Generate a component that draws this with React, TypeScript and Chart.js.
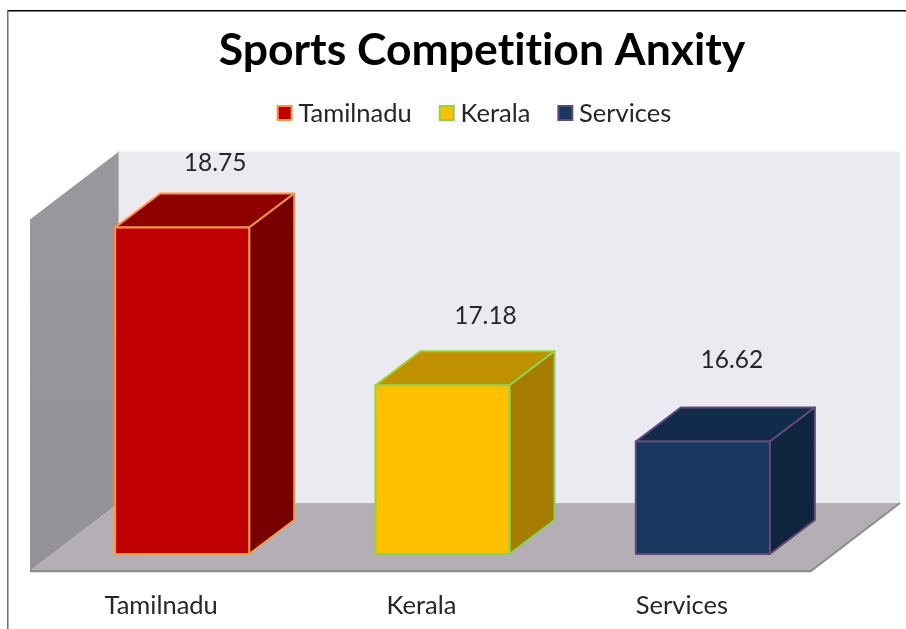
import React, { useEffect, useRef } from "react";
import { Chart, registerables } from "chart.js";

Chart.register(...registerables);

const categories = ["Tamilnadu", "Kerala", "Services"];
const anxietyScores = [18.75, 17.18, 16.62];
const axisMin = 15.5;
const axisMax = 19;
const frontColors = ["#C00000", "#FFC000", "#17375E"];
const topColors = ["#8F0000", "#BF9000", "#132B4A"];
const sideColors = ["#780000", "#A67D00", "#0F243E"];
const edgeColors = ["#F79646", "#92D050", "#604A7B"];
const valueLabelShift = [[33, 64], [43, 69], [29, 81]];

const FONT = "Lato, Carlito, sans-serif";
const TEXT = "#262626";

// Floor plane runs from the front edge to the back wall; bars stand part-way along it.
const FRONT = { dx: -22, dy: 17 };
const BACK = { dx: 67, dy: -51 };
const BAR_DEPTH = { dx: 45, dy: -34 };

function poly(ctx: CanvasRenderingContext2D, pts: number[][], fill: string | CanvasGradient, stroke?: string, lw = 2) {
  ctx.beginPath();
  pts.forEach(([x, y], i) => (i ? ctx.lineTo(x, y) : ctx.moveTo(x, y)));
  ctx.closePath();
  ctx.fillStyle = fill;
  ctx.fill();
  if (stroke) {
    ctx.strokeStyle = stroke;
    ctx.lineWidth = lw;
    ctx.lineJoin = "round";
    ctx.stroke();
  }
}

const box3d = {
  id: "box3d",
  afterLayout(chart: any) {
    const title = chart.titleBlock;
    const legend = chart.legend;
    const tw = title.right - title.left;
    const th = title.bottom - title.top;
    title.left = 482 - tw / 2;
    title.right = 482 + tw / 2;
    title.top = 24;
    title.bottom = 24 + th;
    const lw = legend.right - legend.left;
    const lh = legend.bottom - legend.top;
    legend.left = 471 - lw / 2 + 2;
    legend.right = 471 + lw / 2 + 2;
    legend.top = 76;
    legend.bottom = 76 + lh;
    legend.adjustHitBoxes();
  },
  beforeDraw(chart: any) {
    const ctx = chart.ctx as CanvasRenderingContext2D;
    // The typeface's ligatures would otherwise join letters in the title
    (ctx as any).textRendering = "optimizeSpeed";
    const { left, right, top, bottom } = chart.chartArea;
    ctx.save();

    // Outer frame of the chart object
    ctx.fillStyle = "#000000";
    ctx.fillRect(7, 10, chart.width - 7, 1.5);
    ctx.fillStyle = "#6E6E6E";
    ctx.fillRect(7, 10, 1.5, chart.height - 10);

    const fl = left + FRONT.dx;
    const fr = right + FRONT.dx;
    const ft = top + FRONT.dy;
    const fb = bottom + FRONT.dy;
    const bl = left + BACK.dx;
    const br = right + BACK.dx;
    const bt = top + BACK.dy;
    const bb = bottom + BACK.dy;

    poly(ctx, [[bl, bt], [br, bt], [br, bb], [bl, bb]], "#ECEAF1");

    const wall = ctx.createLinearGradient(0, bt, 0, fb);
    wall.addColorStop(0, "#9A989C");
    wall.addColorStop(1, "#949296");
    poly(ctx, [[fl, ft], [bl, bt], [bl, bb], [fl, fb]], wall);
    ctx.fillStyle = "#B8B6BA";
    ctx.fillRect(bl - 1, bt, 1, bb - bt);

    poly(ctx, [[fl, fb], [fr, fb], [br, bb], [bl, bb]], "#B3AFB4");
    ctx.strokeStyle = "#8C8C8C";
    ctx.lineWidth = 2;
    ctx.beginPath();
    ctx.moveTo(fl, fb);
    ctx.lineTo(fr, fb);
    ctx.lineTo(br, bb);
    ctx.stroke();
    ctx.fillStyle = "#DDDDDD";
    ctx.fillRect(fl, fb + 1, fr - fl, 1);
    ctx.restore();
  },
  beforeDatasetsDraw(chart: any) {
    const ctx = chart.ctx as CanvasRenderingContext2D;
    ctx.save();
    chart.getDatasetMeta(0).data.forEach((bar: any, i: number) => {
      const { x, y, base, width } = bar.getProps(["x", "y", "base", "width"], true);
      const l = x - width / 2;
      const r = x + width / 2;
      const { dx, dy } = BAR_DEPTH;
      poly(ctx, [[l, y], [l + dx, y + dy], [r + dx, y + dy], [r, y]], topColors[i], edgeColors[i]);
      poly(ctx, [[r, y], [r + dx, y + dy], [r + dx, base + dy], [r, base]], sideColors[i], edgeColors[i]);
    });
    ctx.restore();
  },
  afterDatasetsDraw(chart: any) {
    // Front-face outline is centred on the bar edge, like the other two faces
    const ctx = chart.ctx as CanvasRenderingContext2D;
    ctx.save();
    chart.getDatasetMeta(0).data.forEach((bar: any, i: number) => {
      const { x, y, base, width } = bar.getProps(["x", "y", "base", "width"], true);
      ctx.strokeStyle = edgeColors[i];
      ctx.lineWidth = 2;
      ctx.lineJoin = "round";
      ctx.strokeRect(x - width / 2, y, width, base - y);
    });
    ctx.restore();
  },
  afterDraw(chart: any) {
    const ctx = chart.ctx as CanvasRenderingContext2D;
    ctx.save();
    // Value labels sit above each box
    ctx.font = `24.5px ${FONT}`;
    ctx.fillStyle = TEXT;
    ctx.textAlign = "center";
    ctx.textBaseline = "middle";
    chart.getDatasetMeta(0).data.forEach((bar: any, i: number) => {
      const [sx, sy] = valueLabelShift[i];
      ctx.fillText(anxietyScores[i].toFixed(2), bar.x + sx, bar.y - sy);
    });
    // Legend swatches are wider than the slot the legend leaves for them
    const cy = chart.legend.top + 37;
    chart.legend.legendHitBoxes.forEach((hit: any, i: number) => {
      ctx.fillStyle = frontColors[i];
      ctx.strokeStyle = edgeColors[i];
      ctx.lineWidth = 2;
      ctx.fillRect(hit.left + 3, cy - 7, 14, 14);
      ctx.strokeRect(hit.left + 3, cy - 7, 14, 14);
    });
    ctx.restore();
  },
};

export default function App() {
  const ref = useRef<HTMLCanvasElement>(null);
  useEffect(() => {
    const chart = new Chart(ref.current!, {
      type: "bar",
      data: {
        labels: categories,
        datasets: [
          {
            label: "Sports Competition Anxity",
            data: anxietyScores,
            base: axisMin,
            backgroundColor: frontColors,
            borderWidth: 0,
            barPercentage: 0.515,
            categoryPercentage: 1,
            clip: false,
          },
        ],
      },
      options: {
        responsive: false,
        animation: false,
        layout: { padding: { left: 52, right: 73, top: 88.5, bottom: 0 } },
        scales: {
          x: {
            grid: { display: false },
            border: { display: false },
            afterFit(scale: any) {
              scale.height = 75;
            },
            ticks: {
              color: TEXT,
              padding: 28,
              labelOffset: -21,
              maxRotation: 0,
              font: { family: FONT, size: 25.5 },
            },
          },
          y: { display: false, min: axisMin, max: axisMax },
        },
        plugins: {
          tooltip: { enabled: false },
          title: {
            display: true,
            text: "Sports Competition Anxity",
            color: "#000000",
            padding: 0,
            font: { family: FONT, size: 44.5, weight: "bold" },
          },
          legend: {
            display: true,
            position: "top",
            labels: {
              boxWidth: 11,
              boxHeight: 11,
              padding: 25,
              color: TEXT,
              font: { family: FONT, size: 25.5 },
              generateLabels: () =>
                categories.map((text) => ({
                  text,
                  fillStyle: "rgba(0,0,0,0)",
                  strokeStyle: "rgba(0,0,0,0)",
                  lineWidth: 0,
                  fontColor: TEXT,
                })),
            },
          },
        },
      },
      plugins: [box3d],
    } as any);
    return () => chart.destroy();
  }, []);
  return (
    <div style={{ position: "fixed", left: 0, top: 0, width: 906, height: 629, background: "#fff" }}>
      <canvas ref={ref} width={906} height={629} style={{ display: "block" }} />
    </div>
  );
}
